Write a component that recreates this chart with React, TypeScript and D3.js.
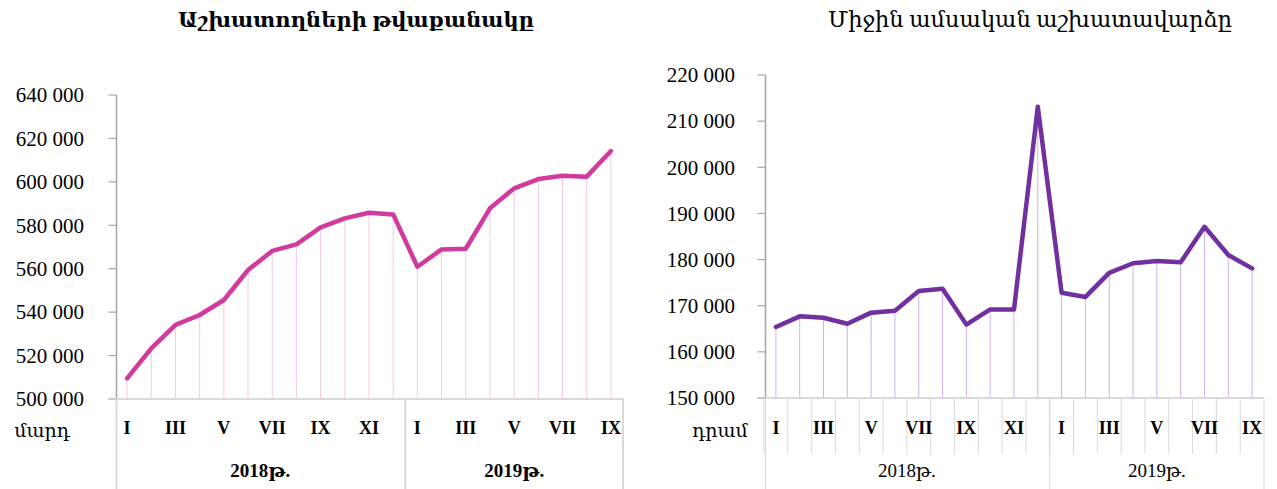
import * as d3 from 'd3'

const months = ['I', 'II', 'III', 'IV', 'V', 'VI', 'VII', 'VIII', 'IX', 'X', 'XI', 'XII', 'I', 'II', 'III', 'IV', 'V', 'VI', 'VII', 'VIII', 'IX']
const years = [
  { label: '2018թ.', count: 12 },
  { label: '2019թ.', count: 9 },
]

// number of employees
const employees = [
  509500, 523300, 534100, 538700, 545600, 559400, 568200, 571200, 579000, 583200, 585800, 585000,
  560900, 568900, 569200, 587800, 597000, 601300, 602800, 602400, 614200,
]
const employeeTicks = [500000, 520000, 540000, 560000, 580000, 600000, 620000, 640000]

// average monthly wage
const wages = [
  165400, 167700, 167400, 166100, 168500, 168900, 173200, 173700, 165900, 169200, 169200, 213100,
  172800, 171900, 177100, 179200, 179700, 179400, 187100, 181000, 178100,
]
const wageTicks = [150000, 160000, 170000, 180000, 190000, 200000, 210000, 220000]

const fmt = d3.formatLocale({ decimal: '.', thousands: ' ', grouping: [3], currency: ['', ''] }).format(',d')
const serif = '"Liberation Serif", "DejaVu Serif", serif'

interface PanelProps {
  title: string
  titleBold: boolean
  titleX: number
  titleSize: number
  values: number[]
  ticks: number[]
  xRange: [number, number]
  yRange: [number, number]
  labelRight: number
  unit: string
  unitX: number
  lineColor: string
  dropColor: string
  boundaryTicks: boolean
  yearBold: boolean
}

const Panel = (p: PanelProps) => {
  const idx = months.map((_, i) => i)
  const x = d3.scaleBand<number>().domain(idx).range(p.xRange).padding(0)
  const y = d3.scaleLinear().domain([p.ticks[0], p.ticks[p.ticks.length - 1]]).range(p.yRange)
  const cx = (i: number) => x(i)! + x.bandwidth() / 2
  const line = d3
    .line<number>()
    .x((_, i) => cx(i))
    .y((d) => y(d))
  const base = p.yRange[0]
  const axisX = p.xRange[0] + 1.5
  let start = 0
  const yearSpans = years.map((yr) => {
    const s = start
    start += yr.count
    return { ...yr, x0: x(s)!, x1: s + yr.count >= months.length ? p.xRange[1] : x(s + yr.count)! }
  })
  return (
    <g>
      <text
        x={p.titleX}
        y={27}
        textAnchor="middle"
        fontFamily={serif}
        fontSize={p.titleSize}
        fontWeight={p.titleBold ? 'bold' : 'normal'}
        fill="#000"
      >
        {p.title}
      </text>
      {/* drop lines */}
      {p.values.map((v, i) => (
        <line key={i} x1={cx(i)} x2={cx(i)} y1={y(v)} y2={base} stroke={p.dropColor} strokeWidth={1} />
      ))}
      {/* value axis */}
      <line x1={axisX} x2={axisX} y1={p.yRange[1]} y2={base} stroke="#a6a6a6" strokeWidth={1.5} />
      {p.ticks.map((t) => (
        <g key={t}>
          <line x1={axisX - 8} x2={axisX} y1={y(t)} y2={y(t)} stroke="#a6a6a6" strokeWidth={1.2} />
          <text
            x={p.labelRight}
            y={y(t)}
            dy="0.35em"
            textAnchor="end"
            fontFamily={serif}
            fontSize={21}
            fill="#000"
          >
            {fmt(t)}
          </text>
        </g>
      ))}
      {/* category axis */}
      <line x1={axisX} x2={p.xRange[1]} y1={base} y2={base} stroke="#d9d9d9" strokeWidth={2} />
      {p.boundaryTicks &&
        idx.map((i) => (
          <line key={i} x1={x(i)!} x2={x(i)!} y1={base} y2={base + 56} stroke="#d9d9d9" strokeWidth={1} />
        ))}
      {[yearSpans[0].x0, yearSpans[1].x0, p.xRange[1]].map((bx, i) => (
        <line
          key={i}
          x1={i === 0 ? axisX : bx}
          x2={i === 0 ? axisX : bx}
          y1={base}
          y2={489}
          stroke="#d9d9d9"
          strokeWidth={p.boundaryTicks ? 1 : 2}
        />
      ))}
      {months.map((m, i) =>
        i % 2 === 0 ? (
          <text
            key={i}
            x={cx(i)}
            y={428}
            dy="0.35em"
            textAnchor="middle"
            fontFamily={serif}
            fontSize={18}
            fontWeight="bold"
            fill="#000"
          >
            {m}
          </text>
        ) : null
      )}
      {yearSpans.map((yr) => (
        <text
          key={yr.label}
          x={(yr.x0 + yr.x1) / 2}
          y={470}
          dy="0.35em"
          textAnchor="middle"
          fontFamily={serif}
          fontSize={19}
          fontWeight={p.yearBold ? 'bold' : 'normal'}
          fill="#000"
        >
          {yr.label}
        </text>
      ))}
      <text x={p.unitX} y={430} dy="0.35em" textAnchor="middle" fontFamily={serif} fontSize={19} fill="#000">
        {p.unit}
      </text>
      <path
        d={line(p.values)!}
        fill="none"
        stroke={p.lineColor}
        strokeWidth={4.5}
        strokeLinejoin="round"
        strokeLinecap="round"
      />
    </g>
  )
}

export default function App() {
  return (
    <svg
      width={1277}
      height={489}
      viewBox="0 0 1277 489"
      style={{ position: 'absolute', left: 0, top: 0, background: '#fff' }}
    >
      <rect width={1277} height={489} fill="#fff" />
      <Panel
        title="Աշխատողների թվաքանակը"
        titleBold
        titleX={356}
        titleSize={21}
        values={employees}
        ticks={employeeTicks}
        xRange={[115, 623]}
        yRange={[399, 95]}
        labelRight={84}
        unit="մարդ"
        unitX={42}
        lineColor="#d23b9d"
        dropColor="#f5c9e5"
        boundaryTicks={false}
        yearBold
      />
      <Panel
        title="Միջին ամսական աշխատավարձը"
        titleBold={false}
        titleX={1030}
        titleSize={22.5}
        values={wages}
        ticks={wageTicks}
        xRange={[764, 1264]}
        yRange={[398, 75]}
        labelRight={735}
        unit="դրամ"
        unitX={720}
        lineColor="#7030a0"
        dropColor="#cdb4e2"
        boundaryTicks
        yearBold={false}
      />
    </svg>
  )
}
